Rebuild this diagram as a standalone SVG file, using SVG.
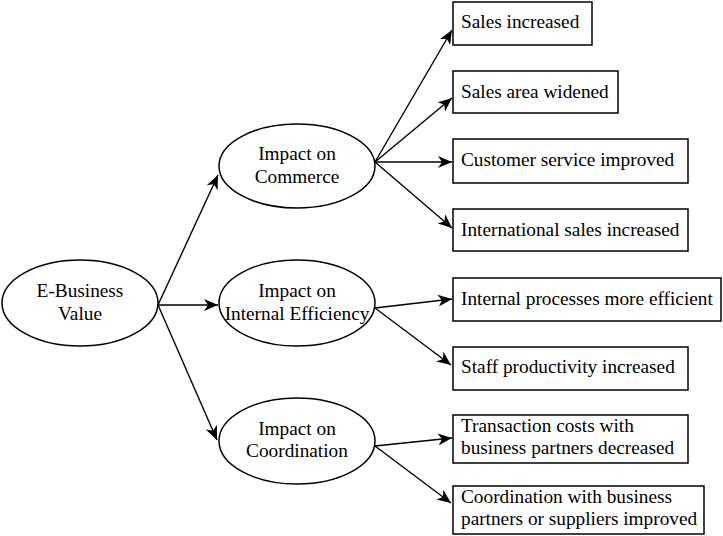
<svg xmlns="http://www.w3.org/2000/svg" width="723" height="536" viewBox="0 0 723 536">
<style>
.sh{fill:#fff;stroke:#000;stroke-width:1.5}
.t{font-family:'Liberation Serif','Times New Roman',Times,serif;font-size:19.3px;fill:#000}
.c{text-anchor:middle}
.ln{stroke:#000;stroke-width:1.4;fill:none;marker-end:url(#ah)}
</style>
<defs>
<marker id="ah" markerUnits="userSpaceOnUse" markerWidth="15" markerHeight="12" viewBox="0 0 15 12" refX="14" refY="6" orient="auto">
<path d="M0,0 L14,6 L0,12 L4,6 Z" fill="#000"/>
</marker>
</defs>
<rect width="723" height="536" fill="#fff"/>
<g id="connectors">
<line class="ln" x1="158" y1="305" x2="218" y2="175"/>
<line class="ln" x1="158" y1="305" x2="218" y2="305"/>
<line class="ln" x1="158" y1="305" x2="217" y2="440"/>
<line class="ln" x1="375" y1="162" x2="452" y2="30"/>
<line class="ln" x1="375" y1="162" x2="452" y2="98"/>
<line class="ln" x1="375" y1="162" x2="452" y2="162"/>
<line class="ln" x1="375" y1="162" x2="452" y2="228"/>
<line class="ln" x1="375" y1="308" x2="452" y2="299"/>
<line class="ln" x1="375" y1="308" x2="451" y2="365"/>
<line class="ln" x1="375" y1="446" x2="452" y2="438"/>
<line class="ln" x1="375" y1="446" x2="451" y2="503"/>
</g>
<g id="ebusiness">
<ellipse class="sh" cx="80" cy="303" rx="78" ry="43"/>
<text class="t c" x="80" y="297">E-Business</text>
<text class="t c" x="80" y="320">Value</text>
</g>
<g id="commerce">
<ellipse class="sh" cx="297" cy="166" rx="78" ry="42"/>
<text class="t c" x="297" y="160">Impact on</text>
<text class="t c" x="297" y="183">Commerce</text>
</g>
<g id="internal">
<ellipse class="sh" cx="297" cy="303" rx="78" ry="43"/>
<text class="t c" x="297" y="297">Impact on</text>
<text class="t c" x="297" y="320">Internal Efficiency</text>
</g>
<g id="coordination">
<ellipse class="sh" cx="297" cy="441" rx="78" ry="43"/>
<text class="t c" x="297" y="435">Impact on</text>
<text class="t c" x="297" y="457">Coordination</text>
</g>
<g id="sales-increased">
<rect class="sh" x="453" y="2" width="139" height="43"/>
<text class="t" x="461" y="28">Sales increased</text>
</g>
<g id="sales-area">
<rect class="sh" x="453" y="71" width="165" height="42"/>
<text class="t" x="461" y="98">Sales area widened</text>
</g>
<g id="customer-service">
<rect class="sh" x="453" y="139" width="235" height="44"/>
<text class="t" x="461" y="166">Customer service improved</text>
</g>
<g id="international-sales">
<rect class="sh" x="453" y="209" width="235" height="42"/>
<text class="t" x="461" y="236">International sales increased</text>
</g>
<g id="internal-processes">
<rect class="sh" x="453" y="278" width="268" height="43"/>
<text class="t" x="461" y="305">Internal processes more efficient</text>
</g>
<g id="staff-productivity">
<rect class="sh" x="453" y="347" width="235" height="43"/>
<text class="t" x="461" y="373">Staff productivity increased</text>
</g>
<g id="transaction-costs">
<rect class="sh" x="453" y="415" width="235" height="48"/>
<text class="t" x="461" y="432">Transaction costs with</text>
<text class="t" x="461" y="454">business partners decreased</text>
</g>
<g id="coordination-partners">
<rect class="sh" x="453" y="486" width="251" height="48"/>
<text class="t" x="461" y="503">Coordination with business</text>
<text class="t" x="461" y="525">partners or suppliers improved</text>
</g>
</svg>
